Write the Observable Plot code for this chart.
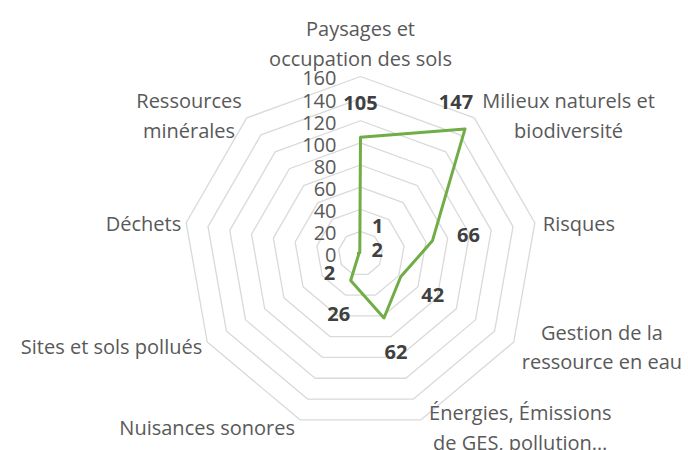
<!DOCTYPE html>
<html><head><meta charset="utf-8">
<script src="https://cdn.jsdelivr.net/npm/d3@7"></script>
<script src="https://cdn.jsdelivr.net/npm/@observablehq/plot@0.6"></script>
<style>body{margin:0;background:#fff;}</style>
</head><body><div id="chart"></div>
<script>
// ---- data ----
const categories = [
  "Paysages et\noccupation des sols",
  "Milieux naturels et\nbiodiversité",
  "Risques",
  "Gestion de la\nressource en eau",
  "Énergies, Émissions\nde GES, pollution…",
  "Nuisances sonores",
  "Sites et sols pollués",
  "Déchets",
  "Ressources\nminérales"
];
const values = [105, 147, 66, 42, 62, 26, 2, 2, 1];
const ticks = [0, 20, 40, 60, 80, 100, 120, 140, 160];
// pixel nudges of the value labels relative to their points
const labelOffsets = [[0,-34],[-9,-26],[36,-5],[32,19],[12,35],[-12,34],[-29,19],[19,-3],[18,-26]];

// ---- layout ----
const W = 688, H = 450, cx = 360, cy = 253, R = 177, vmax = 160;
const FONT = "Open Sans", catSize = 20, tickSize = 20, valSize = 20, lh = 29.5;
const k = R / vmax;
const n = categories.length;
const ang = i => i * 2 * Math.PI / n;
const P = (v, i) => ({x: v * Math.sin(ang(i)), y: v * Math.cos(ang(i))});
const shift = (p, ox, oy) => ({x: p.x + ox / k, y: p.y - oy / k});

const ctx = document.createElement("canvas").getContext("2d");
ctx.font = `${catSize}px "${FONT}"`;
const textW = s => Math.max(...s.split("\n").map(l => ctx.measureText(l).width));

const rings = [];
ticks.filter(t => t > 0).forEach(t => {
  for (let i = 0; i < n; i++) rings.push({t, ...P(t, i)});
});
const series = values.map((v, i) => ({...P(v, i)}));
const valueLabels = values.map((v, i) => ({text: String(v), ...shift(P(v, i), labelOffsets[i][0], labelOffsets[i][1])}));
const catLabels = categories.map((c, i) => {
  const s = Math.sin(ang(i)), co = Math.cos(ang(i));
  const w = textW(c);
  let ox, oy;
  if (Math.abs(s) < 0.1) { ox = 0; oy = -35; }
  else { ox = s > 0 ? 8 + w / 2 : -5 - w / 2; oy = -6 * co; }
  return {text: c, ...shift(P(vmax, i), ox, oy)};
});
const tickLabels = ticks.map(t => ({text: String(t), ...shift(P(t, 0), -24, 2.5)}));

const txt = "#595959";
const chart = Plot.plot({
  width: W, height: H,
  margin: 0,
  x: {domain: [-cx / k, (W - cx) / k], axis: null},
  y: {domain: [-(H - cy) / k, cy / k], axis: null},
  style: {fontFamily: FONT, fontSize: catSize + "px", background: "#fff"},
  marks: [
    Plot.line(rings, {x: "x", y: "y", z: "t", curve: "linear-closed", stroke: "#d9d9d9", strokeWidth: 1.3}),
    Plot.line(series, {x: "x", y: "y", curve: "linear-closed", stroke: "#70ad47", strokeWidth: 3, strokeLinejoin: "round"}),
    Plot.text(tickLabels, {x: "x", y: "y", text: "text", textAnchor: "end", fontSize: tickSize, fill: txt}),
    Plot.text(catLabels, {x: "x", y: "y", text: "text", textAnchor: "middle", lineAnchor: "middle", lineHeight: lh / catSize, fontSize: catSize, fill: txt}),
    Plot.text(valueLabels, {x: "x", y: "y", text: "text", fontWeight: "bold", fontSize: valSize, fill: "#404040"})
  ]
});
document.getElementById("chart").append(chart);
</script>
</body></html>
